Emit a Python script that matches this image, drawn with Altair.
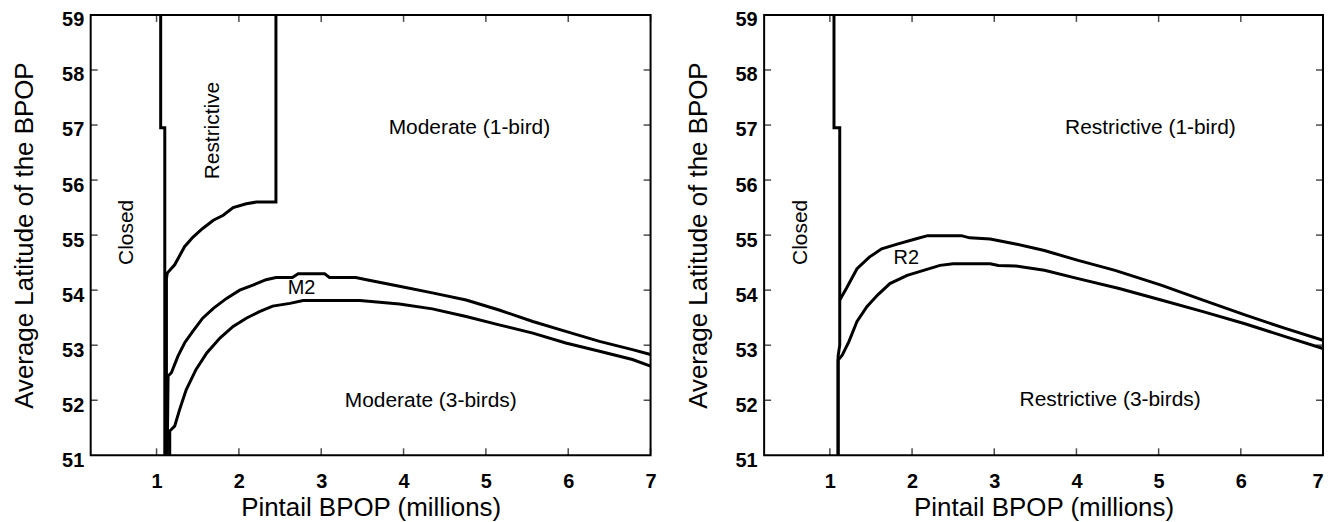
import altair as alt
import pandas as pd

# ---------------- data ----------------
X_DOMAIN = [0.2, 7.0]
Y_DOMAIN = [51.0, 59.0]
X_TICKS = [1, 2, 3, 4, 5, 6, 7]
Y_TICKS = [51, 52, 53, 54, 55, 56, 57, 58, 59]
Y_INNER_TICKS = [52, 53, 54, 55, 56, 57, 58]

X_TITLE = "Pintail BPOP (millions)"
Y_TITLE = "Average Latitude of the BPOP"

# Left panel boundaries
LC_X = [1.05, 1.05, 1.10, 1.10]
LC_Y = [59.0, 56.95, 56.95, 51.0]

LR_X = [1.12, 1.12, 1.13, 1.22, 1.34, 1.44, 1.56, 1.69, 1.81, 1.93, 2.09, 2.21, 2.45, 2.45]
LR_Y = [51.0, 54.2, 54.31, 54.46, 54.79, 54.96, 55.12, 55.27, 55.36, 55.5, 55.57, 55.6, 55.6, 59.0]

LM2_X = [1.13, 1.14, 1.18, 1.26, 1.34, 1.44, 1.56, 1.69, 1.85, 2.01, 2.17, 2.33, 2.45, 2.65,
         2.72, 3.04, 3.10, 3.42, 3.55, 3.95, 4.35, 4.76, 5.16, 5.57, 5.97, 6.38, 6.78, 7.0]
LM2_Y = [51.0, 52.44, 52.5, 52.8, 53.04, 53.25, 53.49, 53.67, 53.85, 54.0, 54.09, 54.19, 54.23, 54.23,
         54.3, 54.3, 54.23, 54.23, 54.19, 54.07, 53.95, 53.82, 53.64, 53.43, 53.25, 53.07, 52.92, 52.83]

LL_X = [1.16, 1.16, 1.22, 1.28, 1.36, 1.48, 1.61, 1.77, 1.93, 2.09, 2.25, 2.41, 2.62, 2.78,
        3.47, 3.95, 4.35, 4.76, 5.16, 5.57, 5.97, 6.38, 6.78, 7.0]
LL_Y = [51.0, 51.44, 51.53, 51.83, 52.19, 52.56, 52.86, 53.13, 53.34, 53.49, 53.61, 53.71, 53.76, 53.81,
        53.81, 53.75, 53.66, 53.52, 53.37, 53.22, 53.04, 52.89, 52.74, 52.62]

# Right panel boundaries
RC_X = [1.05, 1.05, 1.12, 1.12, 1.10, 1.10]
RC_Y = [59.0, 56.95, 56.95, 53.0, 52.8, 51.0]

RU_X = [1.12, 1.2, 1.33, 1.48, 1.63, 1.83, 2.04, 2.19, 2.6, 2.7, 2.95, 3.26, 3.61, 4.02,
        4.47, 5.03, 5.54, 6.05, 6.55, 7.0]
RU_Y = [53.82, 54.03, 54.39, 54.6, 54.75, 54.84, 54.93, 54.99, 54.99, 54.95, 54.93, 54.84, 54.72, 54.54,
        54.36, 54.09, 53.82, 53.55, 53.3, 53.09]

RL_X = [1.10, 1.10, 1.15, 1.23, 1.33, 1.45, 1.58, 1.73, 1.94, 2.14, 2.34, 2.5, 2.95, 3.05,
        3.26, 3.61, 4.02, 4.52, 5.03, 5.54, 6.05, 6.55, 7.0]
RL_Y = [51.0, 52.73, 52.82, 53.06, 53.43, 53.7, 53.91, 54.12, 54.27, 54.36, 54.45, 54.48, 54.48, 54.45,
        54.44, 54.36, 54.21, 54.03, 53.82, 53.61, 53.39, 53.15, 52.94]

# Annotations
L_TEXT = ["Moderate (1-bird)", "Moderate (3-birds)"]
L_TEXT_X = [4.8, 4.33]
L_TEXT_Y = [56.95, 51.98]
L_SMALL = ["M2"]
L_SMALL_X = [2.76]
L_SMALL_Y = [54.04]
L_ROT = ["Restrictive", "Closed"]
L_ROT_X = [1.68, 0.64]
L_ROT_Y = [56.9, 55.05]

R_TEXT = ["Restrictive (1-bird)", "Restrictive (3-birds)"]
R_TEXT_X = [4.9, 4.41]
R_TEXT_Y = [56.95, 52.0]
R_SMALL = ["R2"]
R_SMALL_X = [1.93]
R_SMALL_Y = [54.58]
R_ROT = ["Closed"]
R_ROT_X = [0.65]
R_ROT_Y = [55.05]

FONT = "Liberation Sans"


def lines_frame(series):
    rows = []
    for name, xs, ys in series:
        for i, (x, y) in enumerate(zip(xs, ys)):
            rows.append({"series": name, "idx": i, "x": x, "y": y})
    return pd.DataFrame(rows)


def panel(series, texts, smalls, rots, width, flush):
    xs = alt.Scale(domain=X_DOMAIN, nice=False, zero=False)
    ys = alt.Scale(domain=Y_DOMAIN, nice=False, zero=False)
    xa = alt.Axis(values=X_TICKS, format="d", labelFlush=flush, labelFlushOffset=0,
                  labelPadding=16, titlePadding=3)
    ya = alt.Axis(values=Y_TICKS, format="d", labelPadding=7, labelOffset=5,
                  titlePadding=24)

    def X(field):
        return alt.X(field, type="quantitative", scale=xs, axis=xa, title=X_TITLE)

    def Y(field):
        return alt.Y(field, type="quantitative", scale=ys, axis=ya, title=Y_TITLE)

    def XD(v):
        return alt.XDatum(v, type="quantitative", scale=xs, axis=xa, title=X_TITLE)

    def YD(v):
        return alt.YDatum(v, type="quantitative", scale=ys, axis=ya, title=Y_TITLE)

    df = lines_frame(series)
    lines = alt.Chart(df).mark_line(color="black", strokeWidth=3, clip=True,
                                    strokeJoin="miter").encode(
        x=X("x"), y=Y("y"), detail="series:N", order="idx:Q")

    xt = pd.DataFrame({"v": X_TICKS})
    yt = pd.DataFrame({"v": Y_INNER_TICKS})
    tick_style = dict(color="black", thickness=1.5, size=7)
    tb = alt.Chart(xt).mark_tick(orient="vertical", yOffset=-3.5, **tick_style).encode(
        x=X("v"), y=YD(Y_DOMAIN[0]))
    tt = alt.Chart(xt).mark_tick(orient="vertical", yOffset=3.5, **tick_style).encode(
        x=X("v"), y=YD(Y_DOMAIN[1]))
    tl = alt.Chart(yt).mark_tick(orient="horizontal", xOffset=3.5, **tick_style).encode(
        y=Y("v"), x=XD(X_DOMAIN[0]))
    tr = alt.Chart(yt).mark_tick(orient="horizontal", xOffset=-3.5, **tick_style).encode(
        y=Y("v"), x=XD(X_DOMAIN[1]))

    t_df = pd.DataFrame({"t": texts[0], "x": texts[1], "y": texts[2]})
    s_df = pd.DataFrame({"t": smalls[0], "x": smalls[1], "y": smalls[2]})
    r_df = pd.DataFrame({"t": rots[0], "x": rots[1], "y": rots[2]})
    txt = alt.Chart(t_df).mark_text(font=FONT, fontSize=21, color="black", align="center",
                                    baseline="middle").encode(x=X("x"), y=Y("y"), text="t:N")
    sml = alt.Chart(s_df).mark_text(font=FONT, fontSize=20, color="black", align="center",
                                    baseline="middle").encode(x=X("x"), y=Y("y"), text="t:N")
    rot = alt.Chart(r_df).mark_text(font=FONT, fontSize=21, color="black", align="center",
                                    baseline="middle", angle=270).encode(x=X("x"), y=Y("y"), text="t:N")

    return alt.layer(lines, tb, tt, tl, tr, txt, sml, rot).properties(width=width, height=442)


left = panel(
    [("closed", LC_X, LC_Y), ("restrictive", LR_X, LR_Y), ("m2", LM2_X, LM2_Y), ("lower", LL_X, LL_Y)],
    (L_TEXT, L_TEXT_X, L_TEXT_Y), (L_SMALL, L_SMALL_X, L_SMALL_Y), (L_ROT, L_ROT_X, L_ROT_Y),
    562, False)
right = panel(
    [("closed", RC_X, RC_Y), ("upper", RU_X, RU_Y), ("lower", RL_X, RL_Y)],
    (R_TEXT, R_TEXT_X, R_TEXT_Y), (R_SMALL, R_SMALL_X, R_SMALL_Y), (R_ROT, R_ROT_X, R_ROT_Y),
    561, True)

chart = alt.hconcat(left, right, spacing=26).properties(
    padding={"left": 2, "top": 0, "right": 0, "bottom": 0},
    background="white",
).configure_view(stroke="black", strokeWidth=2).configure_axis(
    domain=False, grid=False, ticks=False, tickSize=0,
    labelFont=FONT, labelFontSize=20, labelFontWeight="bold", labelColor="black",
    titleFont=FONT, titleFontSize=26, titleFontWeight="normal", titleColor="black",
)

chart.save("out.html", embed_options={"renderer": "svg", "actions": False})
